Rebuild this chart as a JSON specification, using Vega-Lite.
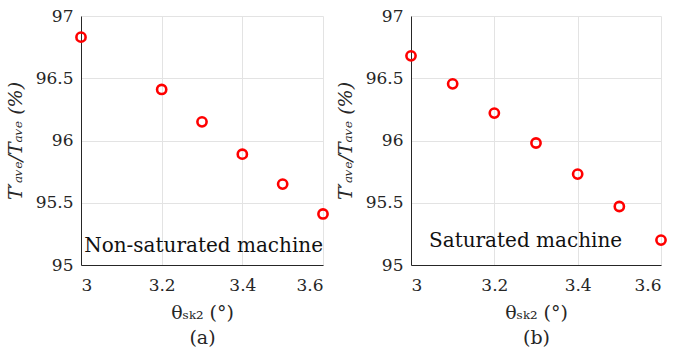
{
  "$schema": "https://vega.github.io/schema/vega-lite/v6.json",
  "background": "white",
  "padding": {"left": 6, "top": 7, "right": 2, "bottom": 0},
  "config": {
    "font": "DejaVu Serif",
    "view": {"stroke": null},
    "axis": {
      "labelFont": "DejaVu Serif",
      "titleFont": "DejaVu Serif",
      "labelFontSize": 17,
      "titleFontSize": 19,
      "labelColor": "#262626",
      "titleColor": "#262626",
      "titleFontWeight": "normal",
      "domainColor": "#262626",
      "domainWidth": 1,
      "ticks": false,
      "gridColor": "#e3e3e3",
      "titleLineHeight": 25
    }
  },
  "datasets": {
    "a": [
      {"theta": 3.0, "ratio": 96.83},
      {"theta": 3.2, "ratio": 96.41},
      {"theta": 3.3, "ratio": 96.15},
      {"theta": 3.4, "ratio": 95.89},
      {"theta": 3.5, "ratio": 95.65},
      {"theta": 3.6, "ratio": 95.41}
    ],
    "b": [
      {"theta": 3.0, "ratio": 96.68},
      {"theta": 3.1, "ratio": 96.455},
      {"theta": 3.2, "ratio": 96.22},
      {"theta": 3.3, "ratio": 95.98},
      {"theta": 3.4, "ratio": 95.73},
      {"theta": 3.5, "ratio": 95.47},
      {"theta": 3.6, "ratio": 95.2}
    ]
  },
  "spacing": 3,
  "hconcat": [
    {
      "width": 242,
      "height": 249,
      "layer": [
        {
          "data": {"name": "a"},
          "mark": {"type": "point", "shape": "circle", "filled": false, "color": "#ff0000", "strokeWidth": 2.6, "size": 85, "opacity": 1, "clip": false},
          "encoding": {
            "x": {"field": "theta", "type": "quantitative", "scale": {"domain": [3, 3.6], "nice": false, "zero": false},
              "axis": {"values": [3, 3.2, 3.4, 3.6], "format": ".1~f", "title": ["θₛₖ₂ (°)", "(a)"], "titlePadding": 10, "labelPadding": 12}},
            "y": {"field": "ratio", "type": "quantitative", "scale": {"domain": [95, 97], "nice": false, "zero": false},
              "axis": {"values": [95, 95.5, 96, 96.5, 97], "format": "~g", "title": "T′ₐᵥₑ/Tₐᵥₑ (%)", "titleFontStyle": "italic", "titlePadding": 10, "labelPadding": 8}}
          }
        },
        {
          "data": {"values": [{"label": "Non-saturated machine"}]},
          "mark": {"type": "text", "fontSize": 20, "font": "DejaVu Serif", "color": "#111111"},
          "encoding": {
            "x": {"datum": 3.304, "type": "quantitative"},
            "y": {"datum": 95.15, "type": "quantitative"},
            "text": {"field": "label"}
          }
        }
      ]
    },
    {
      "width": 250,
      "height": 249,
      "layer": [
        {
          "data": {"name": "b"},
          "mark": {"type": "point", "shape": "circle", "filled": false, "color": "#ff0000", "strokeWidth": 2.6, "size": 85, "opacity": 1, "clip": false},
          "encoding": {
            "x": {"field": "theta", "type": "quantitative", "scale": {"domain": [3, 3.6], "nice": false, "zero": false},
              "axis": {"values": [3, 3.2, 3.4, 3.6], "format": ".1~f", "title": ["θₛₖ₂ (°)", "(b)"], "titlePadding": 10, "labelPadding": 12}},
            "y": {"field": "ratio", "type": "quantitative", "scale": {"domain": [95, 97], "nice": false, "zero": false},
              "axis": {"values": [95, 95.5, 96, 96.5, 97], "format": "~g", "title": "T′ₐᵥₑ/Tₐᵥₑ (%)", "titleFontStyle": "italic", "titlePadding": 10, "labelPadding": 8}}
          }
        },
        {
          "data": {"values": [{"label": "Saturated machine"}]},
          "mark": {"type": "text", "fontSize": 20, "font": "DejaVu Serif", "color": "#111111"},
          "encoding": {
            "x": {"datum": 3.275, "type": "quantitative"},
            "y": {"datum": 95.19, "type": "quantitative"},
            "text": {"field": "label"}
          }
        }
      ]
    }
  ]
}
